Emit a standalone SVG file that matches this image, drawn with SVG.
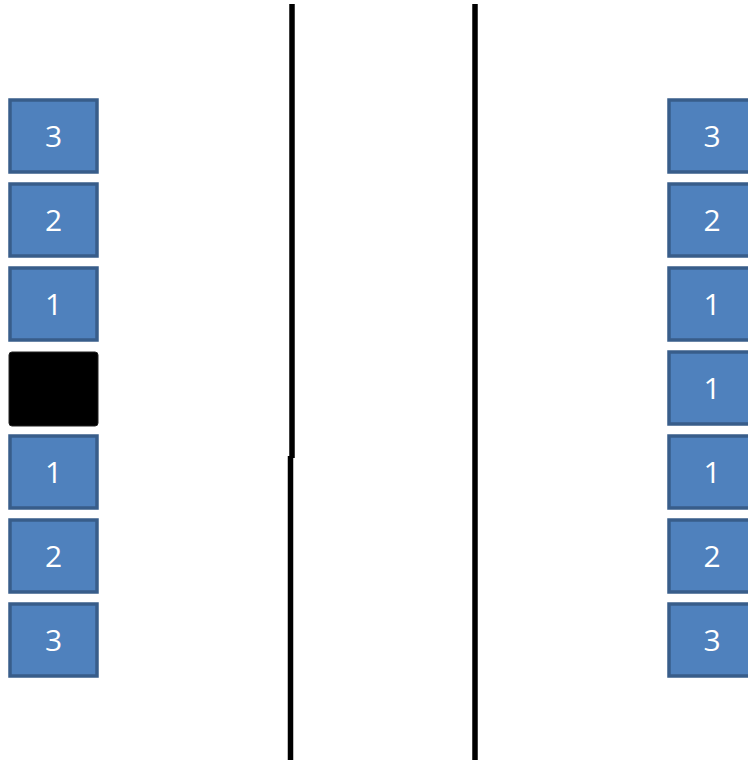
<svg xmlns="http://www.w3.org/2000/svg" width="748" height="763" viewBox="0 0 748 763">
<style>
.b{fill:#4f81bd;stroke:#385d8a;stroke-width:3.5}
.k{fill:#000;stroke:#222;stroke-width:1}
.t{fill:#fff;font-family:"Open Sans","Liberation Sans",sans-serif;font-size:30px;text-anchor:middle}
.ln{stroke:#000;stroke-width:5.5;fill:none}
</style>
<rect width="748" height="763" fill="#fff"/>
<g id="connectors">
<line class="ln" x1="292" y1="4" x2="292" y2="458"/>
<line class="ln" x1="290.5" y1="456" x2="290.5" y2="760"/>
<line class="ln" x1="475" y1="4" x2="475" y2="760"/>
</g>
<g id="L1"><rect class="b" x="10" y="100" width="87" height="72"/><text class="t" x="53.5" y="147">3</text></g>
<g id="L2"><rect class="b" x="10" y="184" width="87" height="72"/><text class="t" x="53.5" y="231">2</text></g>
<g id="L3"><rect class="b" x="10" y="268" width="87" height="72"/><text class="t" x="53.5" y="315">1</text></g>
<g id="L4"><rect class="k" x="9" y="352" width="89" height="74" rx="3"/></g>
<g id="L5"><rect class="b" x="10" y="436" width="87" height="72"/><text class="t" x="53.5" y="483">1</text></g>
<g id="L6"><rect class="b" x="10" y="520" width="87" height="72"/><text class="t" x="53.5" y="567">2</text></g>
<g id="L7"><rect class="b" x="10" y="604" width="87" height="72"/><text class="t" x="53.5" y="651">3</text></g>
<g id="R1"><rect class="b" x="669" y="100" width="87" height="72"/><text class="t" x="712" y="147">3</text></g>
<g id="R2"><rect class="b" x="669" y="184" width="87" height="72"/><text class="t" x="712" y="231">2</text></g>
<g id="R3"><rect class="b" x="669" y="268" width="87" height="72"/><text class="t" x="712" y="315">1</text></g>
<g id="R4"><rect class="b" x="669" y="352" width="87" height="72"/><text class="t" x="712" y="399">1</text></g>
<g id="R5"><rect class="b" x="669" y="436" width="87" height="72"/><text class="t" x="712" y="483">1</text></g>
<g id="R6"><rect class="b" x="669" y="520" width="87" height="72"/><text class="t" x="712" y="567">2</text></g>
<g id="R7"><rect class="b" x="669" y="604" width="87" height="72"/><text class="t" x="712" y="651">3</text></g>
</svg>
